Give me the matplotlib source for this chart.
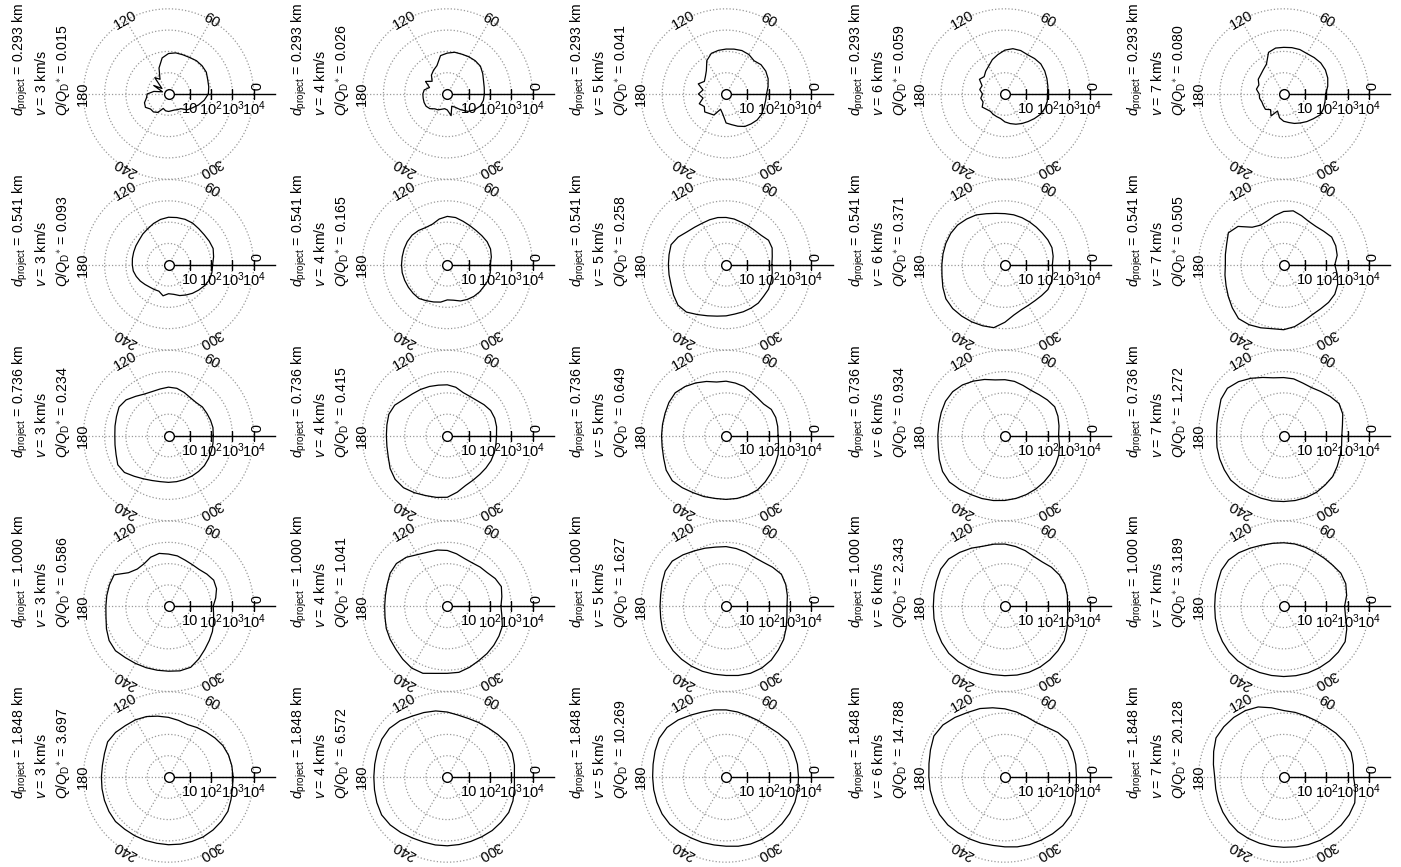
import numpy as np
import matplotlib.pyplot as plt

plt.rcParams['font.family'] = ['Liberation Sans', 'DejaVu Sans']
plt.rcParams['mathtext.fontset'] = 'custom'
plt.rcParams['mathtext.rm'] = 'Liberation Sans'
plt.rcParams['mathtext.it'] = 'Liberation Sans:italic'

# panel labels
d_project = ['0.293', '0.541', '0.736', '1.000', '1.848']
v_imp = [3, 4, 5, 6, 7]
q_ratio = [
    ['0.015', '0.026', '0.041', '0.059', '0.080'],
    ['0.093', '0.165', '0.258', '0.371', '0.505'],
    ['0.234', '0.415', '0.649', '0.934', '1.272'],
    ['0.586', '1.041', '1.627', '2.343', '3.189'],
    ['3.697', '6.572', '10.269', '14.788', '20.128'],
]

theta_deg = [0, 10, 20, 30, 40, 50, 60, 70, 80, 90, 100, 110,
             120, 130, 140, 150, 160, 170, 180, 190, 200, 210, 220, 230,
             240, 250, 260, 270, 280, 290, 300, 310, 320, 330, 340, 350]
angle_labels = [0, 60, 120, 180, 240, 300]
r_ticks = [1, 2, 3, 4]
r_tick_labels = ['10', '10$^2$', '10$^3$', '10$^4$']

# log10 of radial value, one list per v (3..7 km/s)
lg_d0293 = [
    [1.87, 1.92, 1.96, 2.05, 2.06, 2.04, 1.98, 1.96, 1.96, 1.9, 1.72, 1.3, 0.8, 1.0, 0.4, 0.8, 0.3, 0.7,
     1.0, 1.05, 1.2, 1.25, 1.1, 1.1, 1.0, 0.72, 0.8, 0.82, 0.8, 0.8, 0.85, 0.9, 1.15, 1.3, 1.5, 1.7],
    [1.74, 1.76, 1.81, 1.92, 2.03, 2.04, 2.02, 1.99, 1.99, 1.92, 1.83, 1.42, 1.29, 1.16, 0.93, 1.18, 0.89, 1.1,
     1.15, 1.15, 1.16, 1.15, 1.07, 0.91, 0.86, 0.76, 0.7, 0.75, 1.03, 0.61, 0.71, 0.96, 1.27, 1.48, 1.65, 1.72],
    [1.9, 2.0, 2.1, 2.15, 2.14, 2.04, 2.14, 2.17, 2.14, 2.11, 2.08, 2.03, 1.81, 1.44, 1.27, 1.18, 1.39, 1.1,
     1.3, 1.1, 1.34, 1.18, 1.31, 1.2, 1.14, 0.76, 0.94, 1.36, 1.46, 1.61, 1.76, 1.83, 1.9, 1.92, 1.89, 1.88],
    [2.0, 2.05, 2.1, 2.16, 2.2, 2.17, 2.13, 2.17, 2.16, 2.06, 1.88, 1.72, 1.52, 1.4, 1.27, 1.38, 1.14, 1.2,
     1.05, 1.15, 1.09, 1.23, 1.12, 1.06, 1.1, 1.13, 1.17, 1.31, 1.41, 1.51, 1.6, 1.69, 1.8, 1.92, 1.99, 2.02],
    [1.97, 2.1, 2.2, 2.26, 2.27, 2.23, 2.19, 2.22, 2.21, 2.19, 2.19, 2.08, 1.62, 1.49, 1.41, 1.38, 1.24, 1.3,
     1.15, 1.15, 1.09, 1.1, 1.12, 0.96, 1.19, 0.85, 1.13, 1.28, 1.36, 1.47, 1.57, 1.69, 1.81, 1.97, 1.99, 1.97],
]
lg_d0541 = [
    [2.07, 2.15, 2.23, 2.21, 2.19, 2.21, 2.26, 2.27, 2.25, 2.23, 2.16, 2.06, 1.95, 1.88, 1.8, 1.77, 1.74, 1.72,
     1.7, 1.68, 1.61, 1.53, 1.44, 1.37, 1.34, 1.32, 1.48, 1.36, 1.41, 1.54, 1.64, 1.75, 1.85, 1.96, 2.05, 2.07],
    [2.01, 2.1, 2.16, 2.16, 2.12, 2.1, 2.12, 2.17, 2.25, 2.27, 2.18, 2.03, 2.02, 2.1, 2.16, 2.17, 2.16, 2.15,
     2.15, 2.15, 2.13, 2.11, 2.09, 2.07, 1.95, 1.86, 1.78, 1.65, 1.69, 1.81, 1.88, 1.94, 1.98, 2.0, 2.06, 2.05],
    [2.15, 2.2, 2.3, 2.3, 2.15, 2.1, 2.1, 2.12, 2.18, 2.22, 2.25, 2.25, 2.25, 2.3, 2.4, 2.6, 2.75, 2.72,
     2.71, 2.72, 2.75, 2.85, 2.95, 2.9, 2.7, 2.55, 2.45, 2.4, 2.35, 2.35, 2.35, 2.35, 2.3, 2.3, 2.25, 2.2],
    [2.23, 2.3, 2.35, 2.33, 2.3, 2.3, 2.32, 2.35, 2.38, 2.4, 2.45, 2.55, 2.7, 2.8, 2.9, 2.94, 2.95, 2.95,
     2.96, 3.0, 3.1, 3.2, 3.2, 3.15, 3.1, 3.05, 3.0, 2.7, 2.4, 2.25, 2.2, 2.2, 2.25, 2.33, 2.33, 2.28],
    [2.4, 2.55, 2.6, 2.6, 2.45, 2.35, 2.35, 2.45, 2.57, 2.5, 2.35, 2.2, 2.15, 2.3, 2.8, 3.0, 2.85, 2.78,
     2.74, 2.8, 2.88, 3.0, 3.15, 3.3, 3.25, 3.15, 3.05, 3.05, 2.95, 2.8, 2.7, 2.7, 2.75, 2.77, 2.7, 2.55],
]
lg_d0736 = [
    [2.1, 2.12, 2.1, 2.08, 2.08, 2.02, 2.05, 2.15, 2.25, 2.27, 2.22, 2.2, 2.25, 2.4, 2.6, 2.68, 2.6, 2.55,
     2.52, 2.55, 2.62, 2.75, 2.7, 2.5, 2.35, 2.25, 2.2, 2.2, 2.2, 2.2, 2.2, 2.2, 2.2, 2.17, 2.14, 2.12],
    [2.31, 2.35, 2.37, 2.35, 2.25, 2.15, 2.12, 2.15, 2.3, 2.38, 2.4, 2.45, 2.5, 2.55, 2.65, 2.85, 2.92, 2.88,
     2.86, 2.88, 2.95, 3.1, 3.2, 3.2, 3.1, 3.0, 2.95, 2.9, 2.7, 2.5, 2.42, 2.38, 2.37, 2.37, 2.35, 2.32],
    [2.44, 2.46, 2.48, 2.45, 2.3, 2.3, 2.35, 2.45, 2.5, 2.55, 2.55, 2.7, 2.85, 3.0, 3.12, 3.1, 3.05, 3.03,
     3.03, 3.05, 3.12, 3.25, 3.3, 3.2, 3.1, 3.05, 3.0, 3.0, 3.0, 2.98, 2.95, 2.85, 2.75, 2.67, 2.6, 2.5],
    [2.52, 2.58, 2.65, 2.7, 2.6, 2.5, 2.45, 2.5, 2.58, 2.62, 2.65, 2.8, 2.95, 3.1, 3.2, 3.22, 3.18, 3.15,
     3.15, 3.18, 3.28, 3.38, 3.4, 3.3, 3.2, 3.15, 3.1, 3.05, 3.0, 2.95, 2.9, 2.85, 2.8, 2.75, 2.69, 2.6],
    [2.73, 2.8, 2.95, 3.0, 2.85, 2.7, 2.6, 2.62, 2.7, 2.72, 2.75, 2.9, 3.1, 3.3, 3.45, 3.4, 3.25, 3.18,
     3.15, 3.18, 3.2, 3.22, 3.25, 3.2, 3.15, 3.13, 3.12, 3.1, 3.1, 3.1, 3.08, 3.03, 3.0, 2.9, 2.82, 2.76],
]
lg_d1000 = [
    [2.1, 2.25, 2.4, 2.45, 2.35, 2.25, 2.25, 2.3, 2.4, 2.45, 2.52, 2.45, 2.3, 2.28, 2.45, 2.95, 2.95, 2.94,
     2.94, 2.98, 3.1, 3.22, 3.25, 3.15, 3.1, 3.07, 3.05, 3.05, 3.08, 3.05, 2.85, 2.65, 2.5, 2.38, 2.25, 2.15],
    [2.52, 2.6, 2.7, 2.6, 2.45, 2.4, 2.35, 2.38, 2.5, 2.62, 2.68, 2.7, 2.8, 3.0, 3.12, 3.1, 3.0, 2.95,
     2.94, 2.97, 3.05, 3.1, 3.15, 3.25, 3.35, 3.35, 3.2, 3.15, 3.15, 3.05, 2.95, 2.9, 2.85, 2.8, 2.75, 2.6],
    [2.86, 2.92, 2.98, 3.0, 2.85, 2.7, 2.65, 2.7, 2.75, 2.8, 2.82, 2.9, 3.0, 3.15, 3.3, 3.3, 3.2, 3.12,
     3.1, 3.12, 3.18, 3.22, 3.25, 3.25, 3.25, 3.25, 3.24, 3.25, 3.3, 3.35, 3.35, 3.3, 3.2, 3.12, 3.0, 2.9],
    [2.94, 2.98, 3.0, 2.95, 2.85, 2.72, 2.7, 2.78, 2.85, 2.92, 2.96, 3.0, 3.15, 3.3, 3.45, 3.48, 3.42, 3.38,
     3.36, 3.38, 3.4, 3.42, 3.44, 3.4, 3.35, 3.3, 3.26, 3.26, 3.28, 3.3, 3.3, 3.28, 3.25, 3.22, 3.1, 3.0],
    [2.86, 3.0, 3.1, 3.1, 3.0, 2.95, 2.93, 2.95, 2.97, 2.98, 3.0, 3.05, 3.15, 3.28, 3.38, 3.38, 3.3, 3.26,
     3.24, 3.26, 3.3, 3.32, 3.35, 3.35, 3.33, 3.31, 3.3, 3.3, 3.31, 3.33, 3.34, 3.35, 3.35, 3.33, 3.15, 2.95],
]
lg_d1848 = [
    [3.03, 3.02, 3.0, 2.95, 2.85, 2.75, 2.68, 2.62, 2.7, 2.8, 2.9, 3.02, 3.1, 3.15, 3.25, 3.3, 3.2, 3.15,
     3.15, 3.17, 3.2, 3.23, 3.25, 3.2, 3.18, 3.17, 3.16, 3.18, 3.2, 3.22, 3.25, 3.25, 3.24, 3.22, 3.12, 3.05],
    [3.15, 3.2, 3.25, 3.22, 3.1, 3.0, 2.95, 2.92, 2.95, 3.05, 3.15, 3.22, 3.3, 3.45, 3.55, 3.55, 3.5, 3.46,
     3.45, 3.47, 3.52, 3.56, 3.5, 3.4, 3.3, 3.25, 3.24, 3.23, 3.22, 3.22, 3.24, 3.28, 3.3, 3.33, 3.28, 3.2],
    [3.4, 3.4, 3.38, 3.35, 3.2, 3.08, 3.05, 3.05, 3.1, 3.15, 3.2, 3.25, 3.35, 3.5, 3.62, 3.63, 3.55, 3.48,
     3.45, 3.45, 3.46, 3.47, 3.45, 3.38, 3.3, 3.27, 3.24, 3.25, 3.3, 3.35, 3.38, 3.4, 3.42, 3.44, 3.44, 3.42],
    [3.36, 3.38, 3.4, 3.4, 3.25, 3.05, 2.95, 3.0, 3.1, 3.2, 3.3, 3.42, 3.5, 3.65, 3.8, 3.85, 3.72, 3.62,
     3.57, 3.56, 3.55, 3.54, 3.5, 3.42, 3.35, 3.3, 3.26, 3.28, 3.33, 3.38, 3.42, 3.48, 3.55, 3.58, 3.5, 3.4],
    [3.28, 3.32, 3.37, 3.3, 3.2, 3.1, 3.05, 3.05, 3.08, 3.12, 3.3, 3.5, 3.6, 3.65, 3.67, 3.67, 3.5, 3.35,
     3.24, 3.24, 3.27, 3.3, 3.33, 3.35, 3.33, 3.31, 3.3, 3.3, 3.33, 3.38, 3.43, 3.47, 3.52, 3.55, 3.55, 3.42],
]
panels = [lg_d0293, lg_d0541, lg_d0736, lg_d1000, lg_d1848]

W, H = 1401, 867
fig = plt.figure(figsize=(W / 100, H / 100), dpi=100)
fs = 10.5
fs_lab = 10.2
px_per_dec = 21.3
rmax = 4.3
size = 2 * rmax * px_per_dec

th = np.radians(theta_deg + [theta_deg[0]])
circ = np.linspace(0, 2 * np.pi, 200)

for i in range(5):
    cy = 94 + 170.75 * i
    for j in range(5):
        cx = 168.5 + 278.8 * j
        ax = fig.add_axes([(cx - size / 2) / W, 1 - (cy + size / 2) / H, size / W, size / H],
                          projection='polar')
        ax.set_axis_off()
        ax.set_ylim(0, rmax)

        # dotted grid
        for r in r_ticks:
            ax.plot(circ, np.full_like(circ, r), ls=':', color='0.6', lw=0.9)
        for a in angle_labels:
            ax.plot([np.radians(a)] * 2, [0, 4], ls=':', color='0.6', lw=0.9)

        vals = panels[i][j]
        ax.plot(th, vals + [vals[0]], color='black', lw=0.9)

        # radial axis
        ax.plot([0, 0], [0, 5.0], color='black', lw=1.0, clip_on=False)
        ax.plot([0] * 4, r_ticks, ls='none', marker='|', ms=7, mew=1.0, color='black')
        ax.plot([0], [0], marker='o', ms=7, mfc='white', mec='black', mew=1.0)
        for r, lbl in zip(r_ticks, r_tick_labels):
            ax.annotate(lbl, xy=(0, r), xytext=(0, -15), textcoords='offset pixels',
                        ha='center', va='center', fontsize=fs)
        for a in angle_labels:
            t = 5 if a == 0 else a
            ax.text(np.radians(t), 4.0, str(a), rotation=a - 90, rotation_mode='anchor',
                    ha='center', va='center', fontsize=fs)

        lines = [r'$d_{\mathrm{project}}$ = ' + d_project[i] + ' km',
                 r'$v$ = %d km/s' % v_imp[j],
                 r'$Q/Q_{\mathrm{D}}{}^{\ast}$ = ' + q_ratio[i][j]]
        for k, s in enumerate(lines):
            fig.text((cx - 148 + 21.5 * k) / W, 1 - (cy + 22) / H, s, rotation=90,
                     rotation_mode='anchor', ha='left', va='center', fontsize=fs_lab)

fig.savefig('out.png', dpi=100)
